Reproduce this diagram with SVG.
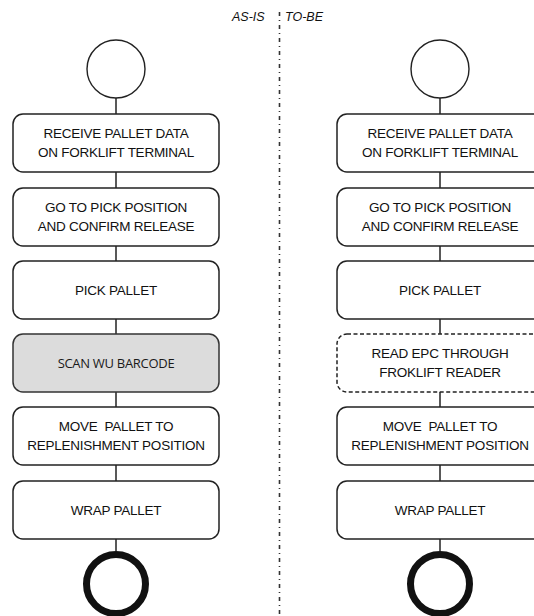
<svg xmlns="http://www.w3.org/2000/svg" width="534" height="616" viewBox="0 0 534 616">
  <style>
    .bg { fill: #ffffff; }
    .box { fill: #ffffff; stroke: #222222; stroke-width: 1.5; }
    .box-grey { fill: #dcdcdc; stroke: #333333; stroke-width: 1.5; }
    .box-dash { fill: #ffffff; stroke: #222222; stroke-width: 1.5; stroke-dasharray: 4 2.5; }
    .start { fill: #ffffff; stroke: #222222; stroke-width: 1.4; }
    .end { fill: #ffffff; stroke: #111111; stroke-width: 7; }
    .link { stroke: #222222; stroke-width: 1.5; fill: none; }
    .divider { stroke: #333333; stroke-width: 1.6; stroke-dasharray: 4 4 1 4; fill: none; }
    .label { font-family: "Liberation Sans", Arial, sans-serif; font-size: 13.5px; fill: #111111; text-anchor: middle; letter-spacing: -0.25px; white-space: pre; }
    .label-alt { font-family: "Open Sans", "Liberation Sans", sans-serif; font-size: 13px; fill: #1a1a1a; text-anchor: middle; letter-spacing: -0.3px; }
    .head { font-family: "Liberation Sans", Arial, sans-serif; font-size: 12.5px; font-style: italic; fill: #111111; }
  </style>

  <rect class="bg" x="0" y="0" width="534" height="616"/>

  <!-- section headings and divider -->
  <g id="divider">
    <text class="head" x="232" y="21">AS-IS</text>
    <text class="head" x="285" y="21">TO-BE</text>
    <line class="divider" x1="279.5" y1="12" x2="279.5" y2="616"/>
  </g>

  <!-- connectors -->
  <g id="connectors">
    <line class="link" x1="116" y1="98" x2="116" y2="114"/>
    <line class="link" x1="116" y1="172" x2="116" y2="188"/>
    <line class="link" x1="116" y1="246" x2="116" y2="261"/>
    <line class="link" x1="116" y1="319" x2="116" y2="334"/>
    <line class="link" x1="116" y1="392" x2="116" y2="407"/>
    <line class="link" x1="116" y1="465" x2="116" y2="481"/>
    <line class="link" x1="116" y1="539" x2="116" y2="551"/>

    <line class="link" x1="440" y1="98" x2="440" y2="114"/>
    <line class="link" x1="440" y1="172" x2="440" y2="188"/>
    <line class="link" x1="440" y1="246" x2="440" y2="261"/>
    <line class="link" x1="440" y1="319" x2="440" y2="334"/>
    <line class="link" x1="440" y1="392" x2="440" y2="407"/>
    <line class="link" x1="440" y1="465" x2="440" y2="481"/>
    <line class="link" x1="440" y1="539" x2="440" y2="551"/>
  </g>

  <!-- AS-IS column -->
  <g id="asis-start">
    <circle class="start" cx="116" cy="69" r="29"/>
  </g>
  <g id="asis-receive">
    <rect class="box" x="13" y="114" width="206" height="58" rx="10"/>
    <text class="label" x="116" y="138">RECEIVE PALLET DATA</text>
    <text class="label" x="116" y="157">ON FORKLIFT TERMINAL</text>
  </g>
  <g id="asis-goto">
    <rect class="box" x="13" y="188" width="206" height="58" rx="10"/>
    <text class="label" x="116" y="212">GO TO PICK POSITION</text>
    <text class="label" x="116" y="231">AND CONFIRM RELEASE</text>
  </g>
  <g id="asis-pick">
    <rect class="box" x="13" y="261" width="206" height="58" rx="10"/>
    <text class="label" x="116" y="295">PICK PALLET</text>
  </g>
  <g id="asis-scan">
    <rect class="box-grey" x="13" y="334" width="206" height="58" rx="10"/>
    <text class="label-alt" x="116" y="368">SCAN WU BARCODE</text>
  </g>
  <g id="asis-move">
    <rect class="box" x="13" y="407" width="206" height="58" rx="10"/>
    <text class="label" x="116" y="431">MOVE  PALLET TO</text>
    <text class="label" x="116" y="450">REPLENISHMENT POSITION</text>
  </g>
  <g id="asis-wrap">
    <rect class="box" x="13" y="481" width="206" height="58" rx="10"/>
    <text class="label" x="116" y="515">WRAP PALLET</text>
  </g>
  <g id="asis-end">
    <circle class="end" cx="116" cy="584" r="29.5"/>
  </g>

  <!-- TO-BE column -->
  <g id="tobe-start">
    <circle class="start" cx="440" cy="69" r="29"/>
  </g>
  <g id="tobe-receive">
    <rect class="box" x="337" y="114" width="206" height="58" rx="10"/>
    <text class="label" x="440" y="138">RECEIVE PALLET DATA</text>
    <text class="label" x="440" y="157">ON FORKLIFT TERMINAL</text>
  </g>
  <g id="tobe-goto">
    <rect class="box" x="337" y="188" width="206" height="58" rx="10"/>
    <text class="label" x="440" y="212">GO TO PICK POSITION</text>
    <text class="label" x="440" y="231">AND CONFIRM RELEASE</text>
  </g>
  <g id="tobe-pick">
    <rect class="box" x="337" y="261" width="206" height="58" rx="10"/>
    <text class="label" x="440" y="295">PICK PALLET</text>
  </g>
  <g id="tobe-read">
    <rect class="box-dash" x="337" y="334" width="206" height="58" rx="10"/>
    <text class="label" x="440" y="358">READ EPC THROUGH</text>
    <text class="label" x="440" y="377">FROKLIFT READER</text>
  </g>
  <g id="tobe-move">
    <rect class="box" x="337" y="407" width="206" height="58" rx="10"/>
    <text class="label" x="440" y="431">MOVE  PALLET TO</text>
    <text class="label" x="440" y="450">REPLENISHMENT POSITION</text>
  </g>
  <g id="tobe-wrap">
    <rect class="box" x="337" y="481" width="206" height="58" rx="10"/>
    <text class="label" x="440" y="515">WRAP PALLET</text>
  </g>
  <g id="tobe-end">
    <circle class="end" cx="440" cy="584" r="29.5"/>
  </g>
</svg>
